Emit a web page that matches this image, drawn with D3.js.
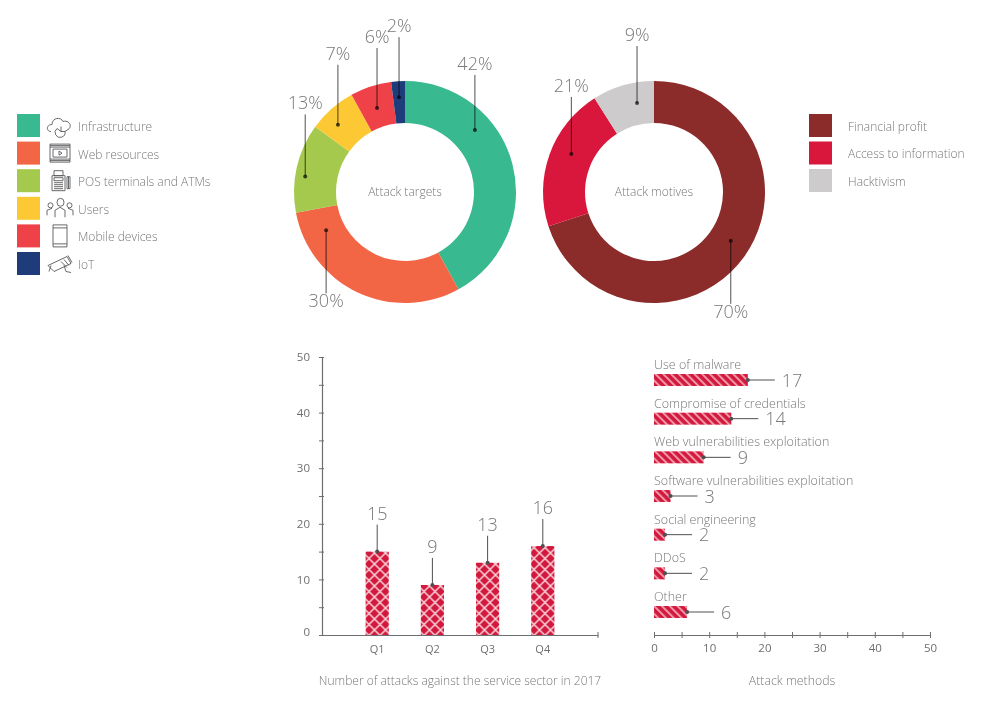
<!DOCTYPE html>
<html><head><meta charset="utf-8">
<script src="https://cdn.jsdelivr.net/npm/d3@7"></script>
<style>
html,body{margin:0;padding:0;background:#fff}
svg{display:block}
text{font-family:"Open Sans","Noto Sans",sans-serif;font-weight:300;fill:#77787b}
.axis text{font-size:11.5px;font-weight:400;fill:#6d6e71}
.lead{mix-blend-mode:multiply}
</style></head><body><svg id="c" width="981" height="708"></svg>
<script>
const targetCats=["Infrastructure","Web resources","POS terminals and ATMs","Users","Mobile devices","IoT"];
const targetVals=[42,30,13,7,6,2];
const targetColors=["#39b98f","#f26645","#a4c94c","#fcc934","#ee4248","#1f3c7a"];
const targetDotFrac=[0.32,0.86,0.42,0.36,0.48,0.5];
const targetDotR=[93.5,87.7,101,95,88.5,95];
const targetLead=[-55,63,-62,-60,-60,-60];

const motiveCats=["Financial profit","Access to information","Hacktivism"];
const motiveVals=[70,21,9];
const motiveColors=["#8c2c2a","#d9163c","#cdcbcb"];
const motiveDotFrac=[0.486,0.565,0.667];
const motiveDotR=[91,91,90.6];
const motiveLead=[63,-57,-57];

const quarters=["Q1","Q2","Q3","Q4"];
const quarterVals=[15,9,13,16];
const methodCats=["Use of malware","Compromise of credentials","Web vulnerabilities exploitation","Software vulnerabilities exploitation","Social engineering","DDoS","Other"];
const methodVals=[17,14,9,3,2,2,6];
const axisAll=[0,5,10,15,20,25,30,35,40,45,50];

const svg=d3.select("#c");
const RED="#d2183c",AX="#6d6e71",DOT="#4f5053";
const defs=svg.append("defs");
const cross=defs.append("pattern").attr("id","cross").attr("patternUnits","userSpaceOnUse").attr("width",11).attr("height",11).attr("x",0.5).attr("y",3);
cross.append("rect").attr("width",11).attr("height",11).attr("fill",RED);
cross.append("path").attr("d","M-1,-1L12,12M-1,12L12,-1").attr("stroke","#f8d3d9").attr("stroke-width",1.5);
const hatch=defs.append("pattern").attr("id","hatch").attr("patternUnits","userSpaceOnUse").attr("width",5.5).attr("height",5.5).attr("patternTransform","rotate(-45)");
hatch.append("rect").attr("width",5.5).attr("height",5.5).attr("fill",RED);
hatch.append("rect").attr("width",2).attr("height",5.5).attr("fill","#ef98a8");

function donut(cx,cy,vals,colors,fracs,rads,leads,title){
  const g=svg.append("g").attr("transform",`translate(${cx},${cy})`);
  const arcs=d3.pie().sort(null)(vals);
  const arc=d3.arc().innerRadius(69).outerRadius(111);
  g.selectAll("path").data(arcs).join("path").attr("d",arc).attr("fill",(d,i)=>colors[i]);
  g.append("text").attr("text-anchor","middle").attr("y",4).attr("font-size",12).text(title);
  arcs.forEach((d,i)=>{
    const a=d.startAngle+(d.endAngle-d.startAngle)*fracs[i];
    const x=Math.sin(a)*rads[i],y=-Math.cos(a)*rads[i],e=y+leads[i];
    g.append("line").attr("class","lead").attr("x1",x).attr("x2",x).attr("y1",y).attr("y2",e).attr("stroke",DOT).attr("stroke-width",1);
    g.append("circle").attr("class","lead").attr("cx",x).attr("cy",y).attr("r",2).attr("fill",DOT);
    g.append("text").attr("x",x).attr("y",leads[i]<0?e-5:e+14).attr("text-anchor","middle").attr("font-size",18).text(vals[i]+"%");
  });
}
donut(405,192,targetVals,targetColors,targetDotFrac,targetDotR,targetLead,"Attack targets");
donut(654,192,motiveVals,motiveColors,motiveDotFrac,motiveDotR,motiveLead,"Attack motives");

const ly=d3.scalePoint().domain(targetCats).range([125.5,263.5]);
const lg=svg.append("g");
lg.selectAll("rect").data(targetCats).join("rect").attr("x",17).attr("width",23).attr("height",23)
  .attr("y",d=>ly(d)-11.5).attr("fill",(d,i)=>targetColors[i]);
lg.selectAll("text").data(targetCats).join("text").attr("x",78).attr("y",d=>ly(d)+5.5).attr("font-size",12).text(d=>d);
const iconPaths=[
 "M-9,6C-14,6-14,-1-8,-1C-8,-8 1,-9 3,-4C9,-6 13,1 8,4L5,6M-3,3A5,5 0 1 0 5,6M-3,3L1,6L5,6M1,6V1",
 "M-10,-9H10V9H-10ZM-10,-6H10M-10,-7.5H10M-7,-4H7V4H-7ZM-1,-2L2,0L-1,2ZM-10,6H10M-10,7.5H10",
 "M-6,-10H3V-5H-6ZM-8,-5H5V10H-8ZM-6,-3H3V0H-6ZM-6,2H3M-6,4H3M-6,6H3M-6,8H3M7,-4H10V8H7ZM8.5,-4V8",
 "M-3,-6A3.5,4 0 1 0 4,-6A3.5,4 0 1 0 -3,-6ZM-5,9V2L0,-1L5,2V9M-12,-3A2.5,2.5 0 1 0 -7,-3A2.5,2.5 0 1 0 -12,-3ZM-13,7V2L-8,0M7,-3A2.5,2.5 0 1 0 12,-3A2.5,2.5 0 1 0 7,-3ZM13,7V2L8,0",
 "M-7,-11H7V11H-7ZM-7,-8H7M-7,8H7",
 "M-12,2L7,-7L11,0L-6,8ZM-9,2L-11,8M1,-2L7,4M4,-4L9,2M4,2L6,8L11,9M8,-8L12,-1"
];
const ig=svg.append("g");
ig.selectAll("path").data(targetCats).join("path").attr("transform",d=>`translate(60,${ly(d)})`)
  .attr("d",(d,i)=>iconPaths[i]).attr("fill","none").attr("stroke","#58595b").attr("stroke-width",0.9);

const ry=d3.scalePoint().domain(motiveCats).range([125.5,180.5]);
const rg=svg.append("g");
rg.selectAll("rect").data(motiveCats).join("rect").attr("x",809).attr("width",23).attr("height",23)
  .attr("y",d=>ry(d)-11.5).attr("fill",(d,i)=>motiveColors[i]);
rg.selectAll("text").data(motiveCats).join("text").attr("x",848).attr("y",d=>ry(d)+5).attr("font-size",12).text(d=>d);

// column chart
const y=d3.scaleLinear().domain([0,50]).range([635,357]);
const xb=d3.scaleBand().domain(quarters).range([322,598]).paddingInner(0.58).paddingOuter(0.79);
const cg=svg.append("g");
cg.selectAll("rect").data(quarters).join("rect").attr("x",d=>xb(d)).attr("width",xb.bandwidth())
  .attr("y",(d,i)=>y(quarterVals[i])).attr("height",(d,i)=>y(0)-y(quarterVals[i])).attr("fill","url(#cross)");
function axStyle(s){s.selectAll("path,line").attr("stroke",AX).attr("stroke-width",1);}
const yAxis=svg.append("g").attr("class","axis").attr("transform","translate(322,0)")
  .call(d3.axisLeft(y).tickValues(axisAll).tickSize(3).tickPadding(9).tickFormat(d=>d%10===0?d:"").tickSizeOuter(0)).call(axStyle);
yAxis.selectAll(".tick line").attr("x1",-3).attr("x2",2);
yAxis.select(".domain").attr("stroke-width",1.2);
yAxis.selectAll(".tick").filter(d=>d===0).select("text").attr("dy","0");
const xBottom=svg.append("g").attr("class","axis").attr("transform","translate(0,635)")
  .call(d3.axisBottom(d3.scaleLinear().domain([0,1]).range([322,598])).tickValues([1]).tickSize(0).tickFormat("")).call(axStyle);
xBottom.select(".domain").attr("stroke-width",1.2);
svg.append("line").attr("x1",598).attr("x2",598).attr("y1",632).attr("y2",638).attr("stroke",AX);
cg.selectAll("text.q").data(quarters).join("text").attr("class","q").attr("x",d=>xb(d)+xb.bandwidth()/2).attr("y",653)
  .attr("text-anchor","middle").attr("font-size",11).style("font-weight",400).style("fill","#6d6e71").text(d=>d);
quarters.forEach((q,i)=>{
  const x=xb(q)+xb.bandwidth()/2,v=y(quarterVals[i]);
  cg.append("line").attr("x1",x).attr("x2",x).attr("y1",v).attr("y2",v-27).attr("stroke",DOT);
  cg.append("circle").attr("cx",x).attr("cy",v).attr("r",2).attr("fill",DOT);
  cg.append("text").attr("x",x).attr("y",v-32).attr("text-anchor","middle").attr("font-size",18).text(quarterVals[i]);
});
svg.append("text").attr("x",460).attr("y",685).attr("text-anchor","middle").attr("font-size",12).text("Number of attacks against the service sector in 2017");

// bar chart
const x=d3.scaleLinear().domain([0,50]).range([654,930]);
const barY=d3.scalePoint().domain(methodCats).range([380,612]);
const mg=svg.append("g");
mg.selectAll("rect").data(methodCats).join("rect").attr("x",x(0)).attr("y",d=>barY(d)-6).attr("height",12)
  .attr("width",(d,i)=>x(methodVals[i])-x(0)).attr("fill","url(#hatch)");
mg.selectAll("text.c").data(methodCats).join("text").attr("class","c").attr("x",x(0)).attr("y",d=>barY(d)-11)
  .attr("font-size",12.5).text(d=>d);
methodCats.forEach((c,i)=>{
  const px=x(methodVals[i]),py=barY(c);
  mg.append("line").attr("x1",px).attr("x2",px+27).attr("y1",py).attr("y2",py).attr("stroke",DOT);
  mg.append("circle").attr("cx",px).attr("cy",py).attr("r",2).attr("fill",DOT);
  mg.append("text").attr("x",px+34).attr("y",py+6.5).attr("font-size",18).text(methodVals[i]);
});
const xAxis=svg.append("g").attr("class","axis").attr("transform","translate(0,635)")
  .call(d3.axisBottom(x).tickValues(axisAll).tickSize(3).tickPadding(6).tickFormat(d=>d%10===0?d:"").tickSizeOuter(0)).call(axStyle);
xAxis.selectAll(".tick line").attr("y1",-3).attr("y2",3);
xAxis.select(".domain").attr("stroke-width",1.2);
svg.append("text").attr("x",792).attr("y",685).attr("text-anchor","middle").attr("font-size",12.3).text("Attack methods");
</script></body></html>
